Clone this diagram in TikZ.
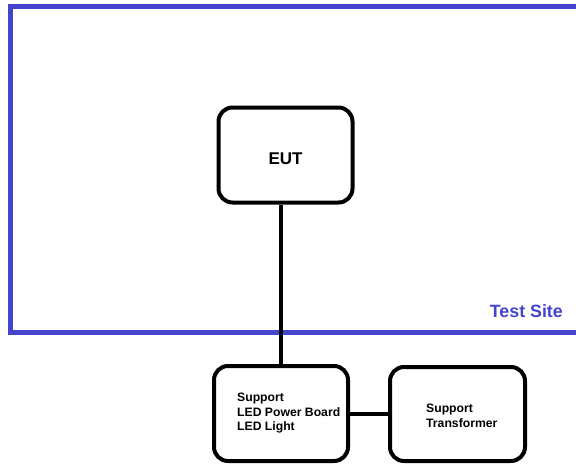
\documentclass[tikz,border=0pt]{standalone}
\usepackage{fontspec}
\setmainfont{Liberation Sans}
\definecolor{siteblue}{RGB}{68,68,204}
\begin{document}
\begin{tikzpicture}[x=1pt,y=-1pt,
  box/.style={draw=black, line width=4pt, rounded corners=14pt, minimum width=134pt, minimum height=95pt, inner sep=0pt},
  conn/.style={draw=black, line width=4pt},
  boxtxt/.style={font=\bfseries\fontsize{12.2}{14.5}\selectfont, align=left, inner sep=0pt, anchor=west},
  sitelabel/.style={font=\bfseries\fontsize{17.8}{20}\selectfont, text=siteblue, inner sep=0pt, anchor=base east}]
\useasboundingbox (0,0) rectangle (576,464);
\clip (0,0) rectangle (576,464);
\fill[white] (0,0) rectangle (576,464);
% test site boundary
\draw[siteblue, line width=5pt] (590,6.5) -- (10.5,6.5) -- (10.5,332) -- (590,332);
\node[sitelabel] (site) at (563,317) {Test Site};
% boxes
\node[box, font=\bfseries\fontsize{17}{20}\selectfont, text height=19pt, text depth=0pt] (eut) at (285.5,155) {EUT};
\node[box] (sup1) at (281,413.5) {};
\node[box, minimum width=135pt, minimum height=94pt] (sup2) at (457.5,414) {};
\node[boxtxt] (sup1txt) at ([xshift=-44pt]sup1.center) {Support\\LED Power Board\\LED Light};
\node[boxtxt] (sup2txt) at ([xshift=-31.5pt,yshift=-2pt]sup2.center) {Support\\Transformer};
% connectors
\draw[conn] (sup1.north) -- (sup1.north |- eut.south);
\draw[conn] (sup1.east) -- (sup2.west |- sup1.east);
\end{tikzpicture}
\end{document}
